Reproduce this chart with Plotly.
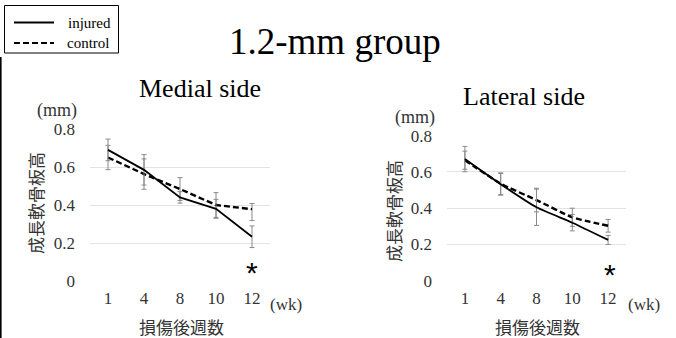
import plotly.graph_objects as go

weeks = ["1", "4", "8", "10", "12"]

medial_injured = [0.69, 0.585, 0.44, 0.38, 0.233]
medial_injured_err = [0.057, 0.08, 0.03, 0.05, 0.057]
medial_control = [0.65, 0.563, 0.484, 0.40, 0.378]
medial_control_err_up = [0.064, 0.08, 0.06, 0.065, 0.03]
medial_control_err_down = [0.064, 0.08, 0.06, 0.065, 0.06]

lateral_injured = [0.671, 0.532, 0.405, 0.32, 0.225]
lateral_injured_err = [0.07, 0.06, 0.1, 0.045, 0.025]
lateral_control = [0.665, 0.535, 0.445, 0.35, 0.303]
lateral_control_err = [0.05, 0.06, 0.065, 0.05, 0.035]

y_ticks = [0, 0.2, 0.4, 0.6, 0.8]
y_ticklabels = ["0", "0.2", "0.4", "0.6", "0.8"]

W, H = 676, 338
def px(x):
    return x / W
def py(y):
    return 1 - y / H

SERIF = "Liberation Serif"
CJK = "Noto Sans CJK JP"
ERRC = "#8a8a8a"

def err(arr, arrminus=None):
    d = dict(type="data", array=arr, color=ERRC, thickness=1, width=2.5, visible=True)
    if arrminus is not None:
        d["symmetric"] = False
        d["arrayminus"] = arrminus
    return d

fig = go.Figure()
fig.add_trace(go.Scatter(x=weeks, y=medial_control, mode="lines", xaxis="x", yaxis="y",
                         line=dict(color="black", width=2.4, dash="6px,3px"),
                         error_y=err(medial_control_err_up, medial_control_err_down),
                         showlegend=False))
fig.add_trace(go.Scatter(x=weeks, y=medial_injured, mode="lines", xaxis="x", yaxis="y",
                         line=dict(color="black", width=1.8),
                         error_y=err(medial_injured_err), showlegend=False))
fig.add_trace(go.Scatter(x=weeks, y=lateral_control, mode="lines", xaxis="x2", yaxis="y2",
                         line=dict(color="black", width=2.4, dash="6px,3px", shape="spline", smoothing=0.5),
                         error_y=err(lateral_control_err), showlegend=False))
fig.add_trace(go.Scatter(x=weeks, y=lateral_injured, mode="lines", xaxis="x2", yaxis="y2",
                         line=dict(color="black", width=1.8, shape="spline", smoothing=0.5),
                         error_y=err(lateral_injured_err), showlegend=False))

axis_common_x = dict(type="category", range=[-0.5, 4.5], showgrid=False, zeroline=False,
                     showline=False, ticks="", ticklabelstandoff=5, automargin=False,
                     tickfont=dict(family=SERIF, size=17, color="#333"))
axis_common_y = dict(range=[0, 0.8], tickvals=y_ticks, ticktext=y_ticklabels,
                     showgrid=True, gridcolor="#e3e3e3", gridwidth=1, zeroline=False,
                     showline=False, ticks="", ticklabelstandoff=14, automargin=False,
                     tickfont=dict(family=SERIF, size=17, color="#333"))

fig.update_layout(
    width=W, height=H, margin=dict(l=0, r=0, t=0, b=0, pad=0, autoexpand=False),
    paper_bgcolor="white", plot_bgcolor="white",
    font=dict(family=SERIF),
    xaxis=dict(domain=[px(90), px(270)], anchor="y", **axis_common_x),
    yaxis=dict(domain=[57 / H, 209 / H], anchor="x", **axis_common_y),
    xaxis2=dict(domain=[px(447), px(626)], anchor="y2", **axis_common_x),
    yaxis2=dict(domain=[57.3 / H, 202.3 / H], anchor="x2", **axis_common_y),
)

ann = []
def text(x, y, s, size, family=SERIF, color="black", angle=0, xanchor="center"):
    ann.append(dict(x=px(x), y=py(y), xref="paper", yref="paper", text=s, showarrow=False,
                    font=dict(family=family, size=size, color=color), textangle=angle,
                    xanchor=xanchor, yanchor="middle"))

text(335, 42, "1.2-mm group", 37)
text(200, 88, "Medial side", 26)
text(524, 96, "Lateral side", 26)
text(57, 110, "(mm)", 18, color="#333")
text(415, 117, "(mm)", 18, color="#333")
text(35, 203, "成長軟骨板高", 17, family=CJK, color="#333", angle=-90)
text(393, 211, "成長軟骨板高", 17, family=CJK, color="#333", angle=-90)
text(181, 326, "損傷後週数", 17, family=CJK, color="#333")
text(537, 326, "損傷後週数", 17, family=CJK, color="#333")
text(286, 304, "(wk)", 17, color="#333")
text(644, 304, "(wk)", 17, color="#333")
text(89, 23, "injured", 15)
text(88, 43, "control", 15)
text(252, 272, "*", 30, family="Liberation Sans")
text(610, 274, "*", 30, family="Liberation Sans")
fig.update_layout(annotations=ann)

shapes = [
    dict(type="rect", xref="paper", yref="paper", x0=px(4.5), x1=px(118.5), y0=py(53), y1=py(5.5),
         line=dict(color="black", width=1)),
    dict(type="line", xref="paper", yref="paper", x0=px(14), x1=px(54), y0=py(22.5), y1=py(22.5),
         line=dict(color="black", width=2)),
    dict(type="line", xref="paper", yref="paper", x0=px(14), x1=px(54), y0=py(43), y1=py(43),
         line=dict(color="black", width=2, dash="6px,3px")),
    dict(type="line", xref="paper", yref="paper", x0=px(0.8), x1=px(0.8), y0=py(57), y1=py(338),
         line=dict(color="black", width=1.6)),
]
fig.update_layout(shapes=shapes)

fig.write_html("out.html", config={"displayModeBar": False},
               post_script="document.body.style.margin='0';document.body.style.overflow='hidden';")
